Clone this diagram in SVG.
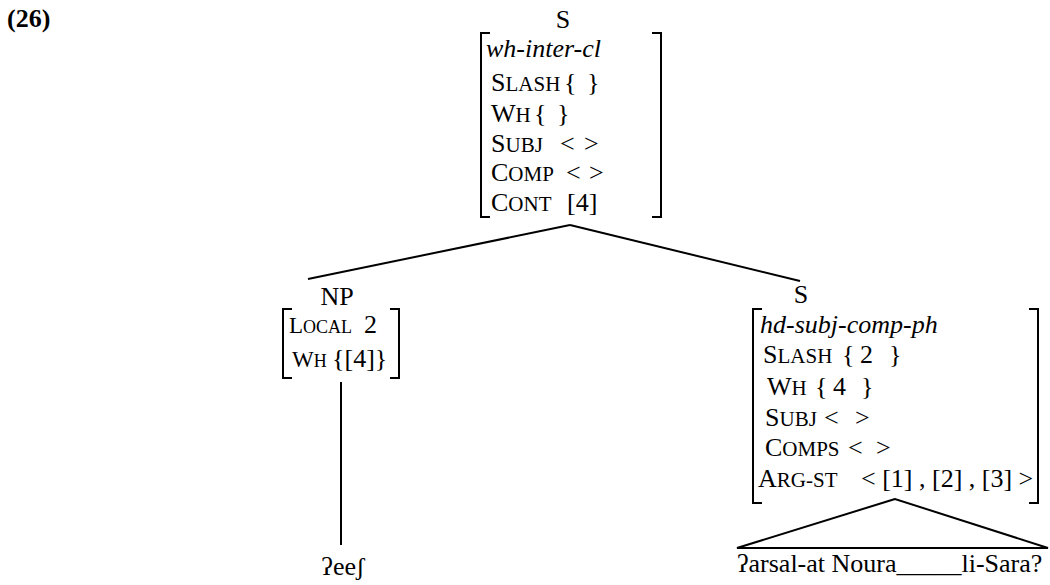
<svg xmlns="http://www.w3.org/2000/svg" width="1050" height="585" viewBox="0 0 1050 585">
<style>
text{font-family:"Liberation Serif","Times New Roman",serif;font-size:26px;fill:#000}
.it{font-style:italic}
.b{font-weight:bold}
.sc{font-size:21px}
.s{font-size:23px}
.ss{font-size:18px}
.m{text-anchor:middle}
.ln{stroke:#000;stroke-width:2;fill:none}
</style>
<text class="b" x="7" y="27">(26)</text>

<g id="node-top">
<text class="m" x="563" y="28">S</text>
<path class="ln" d="M490,33 H481 V217 H490 M652,33 H661 V217 H652"/>
<text class="it" x="486" y="57">wh-inter-cl</text>
<text x="491" y="91">S<tspan class="sc">LASH</tspan></text>
<text x="564" y="91">{</text><text x="587" y="91">}</text>
<text x="491" y="122">W<tspan class="sc">H</tspan></text>
<text x="534" y="122">{</text><text x="557" y="122">}</text>
<text x="491" y="152">S<tspan class="sc">UBJ</tspan></text>
<text x="560" y="152">&lt;</text><text x="584" y="152">&gt;</text>
<text x="491" y="181">C<tspan class="sc">OMP</tspan></text>
<text x="566" y="181">&lt;</text><text x="589" y="181">&gt;</text>
<text x="491" y="211">C<tspan class="sc">ONT</tspan></text>
<text x="567" y="211">[4]</text>
</g>

<g id="node-np">
<text class="m" x="337" y="305">NP</text>
<path class="ln" d="M292,309 H283 V378 H292 M390,309 H399 V378 H390"/>
<text x="289" y="333" class="s">L<tspan class="ss">OCAL</tspan></text>
<text x="364" y="333">2</text>
<text x="292" y="367" class="s">W<tspan class="ss">H</tspan></text>
<text x="332" y="367">{[4]}</text>
</g>

<g id="node-s2">
<text class="m" x="801" y="303">S</text>
<path class="ln" d="M762,309 H753 V503 H762 M1029,309 H1038 V503 H1029"/>
<text class="it" x="760" y="333">hd-subj-comp-ph</text>
<text x="763" y="363">S<tspan class="sc">LASH</tspan></text>
<text x="842" y="363">{</text><text x="860" y="363">2</text><text x="889" y="363">}</text>
<text x="767" y="395">W<tspan class="sc">H</tspan></text>
<text x="815" y="395">{</text><text x="833" y="395">4</text><text x="861" y="395">}</text>
<text x="765" y="426">S<tspan class="sc">UBJ</tspan></text>
<text x="824" y="426">&lt;</text><text x="855" y="426">&gt;</text>
<text x="765" y="456">C<tspan class="sc">OMPS</tspan></text>
<text x="848" y="456">&lt;</text><text x="876" y="456">&gt;</text>
<text x="758" y="487">A<tspan class="sc">RG-ST</tspan></text>
<text x="861" y="487">&lt; [1] , [2] , [3] &gt;</text>
</g>

<g id="leaf-1">
<text class="m" x="343" y="575">ʔeeʃ</text>
</g>
<g id="leaf-2">
<text x="737" y="572">ʔarsal-at Noura_____li-Sara?</text>
</g>

<g id="connectors">
<path class="ln" d="M570,225 L308,279"/>
<path class="ln" d="M570,225 L800,281"/>
<path class="ln" d="M341,382 V545"/>
<path class="ln" d="M895,499 L737,548 H1048 Z"/>
</g>
</svg>
